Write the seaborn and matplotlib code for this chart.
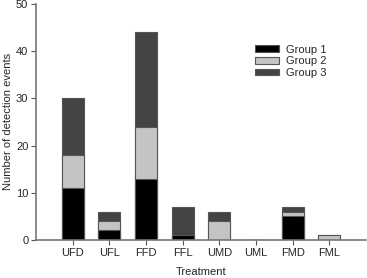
import numpy as np
import pandas as pd
import seaborn as sns
import matplotlib.pyplot as plt

treatments = ['UFD', 'UFL', 'FFD', 'FFL', 'UMD', 'UML', 'FMD', 'FML']
group1 = [11, 2, 13, 1, 0, 0, 5, 0]
group2 = [7, 2, 11, 0, 4, 0, 1, 1]
group3 = [12, 2, 20, 6, 2, 0, 1, 0]

sns.set_style('ticks')
plt.rcParams['font.family'] = ['Liberation Sans', 'DejaVu Sans']

fig, ax = plt.subplots(figsize=(3.67, 2.78), dpi=100)

df = pd.DataFrame({'Treatment': treatments, 'g1': group1, 'g2': group2, 'g3': group3})
df['s2'] = df['g1'] + df['g2']
df['s3'] = df['s2'] + df['g3']

edge = '#555555'
sns.barplot(data=df, x='Treatment', y='s3', color='#444444', edgecolor=edge,
            linewidth=0.8, width=0.6, ax=ax, label='Group 3', saturation=1)
sns.barplot(data=df, x='Treatment', y='s2', color='#c4c4c4', edgecolor=edge,
            linewidth=0.8, width=0.6, ax=ax, label='Group 2', saturation=1)
sns.barplot(data=df, x='Treatment', y='g1', color='black', edgecolor=edge,
            linewidth=0.8, width=0.6, ax=ax, label='Group 1', saturation=1)

ax.set_ylim(0, 50)
ax.set_yticks([0, 10, 20, 30, 40, 50])
ax.set_xlim(-1.0, 8.0)
ax.set_xlabel('Treatment', fontsize=8, labelpad=7)
ax.set_ylabel('Number of detection events', fontsize=8, labelpad=2)
ax.tick_params(labelsize=8, length=3.5, color='#555555', pad=2)
for s in ['left', 'bottom']:
    ax.spines[s].set_color('#777777')
    ax.spines[s].set_linewidth(1.2)
sns.despine(ax=ax)

h, l = ax.get_legend_handles_labels()
ax.legend(h[::-1], l[::-1], frameon=False, fontsize=8, loc='upper right',
          bbox_to_anchor=(0.91, 0.87), handlelength=2.2, handleheight=0.55,
          labelspacing=0.15, handletextpad=0.6)

fig.subplots_adjust(left=0.098, right=0.997, top=0.986, bottom=0.137)
fig.savefig('out.png')
